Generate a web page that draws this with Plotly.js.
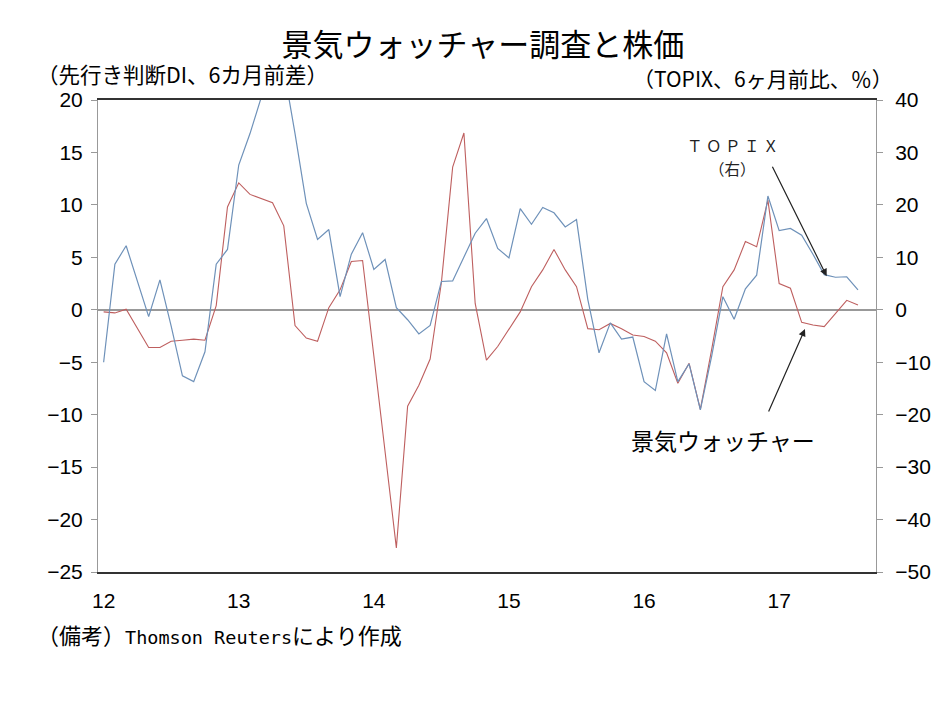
<!DOCTYPE html>
<html>
<head>
<meta charset="utf-8">
<script src="https://cdn.plot.ly/plotly-3.0.1.min.js"></script>
<style>
html,body{margin:0;padding:0;background:#fff;}
#chart{width:934px;height:701px;}
</style>
</head>
<body>
<div id="chart"></div>
<script>
// Month index 0 = Jan 2012 ... 67 = Aug 2017
const months = [];
for (let i = 0; i < 68; i++) months.push(i);

const yearTickPositions = [0, 12, 24, 36, 48, 60];
const yearTickLabels = ["12", "13", "14", "15", "16", "17"];

// 景気ウォッチャー 先行き判断DI、6カ月前差 (left axis)
const watcherDI = [
  -0.2, -0.3, 0.05, -1.8, -3.6, -3.6, -3.0, -2.9, -2.8, -2.9, 0.4, 9.8,
  12.1, 11.0, 10.6, 10.2, 8.0, -1.5, -2.7, -3.0, 0.2, 1.9, 4.6, 4.7,
  -4.4, -13.5, -22.7, -9.2, -7.2, -4.7, 2.6, 13.6, 16.85, 0.6, -4.8, -3.5,
  -1.8, -0.2, 2.2, 3.8, 5.75, 3.8, 2.2, -1.8, -1.9, -1.3, -1.8, -2.4,
  -2.55, -3.0, -4.1, -7.0, -5.1, -9.5, -3.8, 2.2, 3.8, 6.5, 6.0, 10.45,
  2.5, 2.05, -1.2, -1.45, -1.6, -0.4, 0.9, 0.45
];

// TOPIX 6ヶ月前比 % (right axis)
const topix = [
  -10.0, 8.7, 12.2, 5.6, -1.3, 5.7, -3.1, -12.6, -13.7, -8.0, 8.7, 11.5,
  27.6, 33.6, 40.5, 51.0, 46.0, 33.6, 20.3, 13.4, 15.3, 2.5, 10.6, 14.7,
  7.7, 9.6, 0.4, -1.9, -4.6, -3.0, 5.4, 5.5, 10.1, 14.6, 17.4, 11.7,
  9.9, 19.3, 16.3, 19.5, 18.5, 15.8, 17.2, 2.0, -8.2, -2.5, -5.6, -5.2,
  -13.7, -15.4, -4.6, -13.7, -10.3, -19.1, -8.9, 2.5, -1.8, 4.0, 6.6, 21.7,
  15.1, 15.5, 14.2, 10.6, 6.7, 6.2, 6.3, 3.8
];

const jp = '"Noto Sans CJK JP", "Noto Sans", sans-serif';
const num = '"Liberation Sans", Arial, sans-serif';

const traces = [
  {
    x: months, y: watcherDI, type: 'scatter', mode: 'lines',
    name: '景気ウォッチャー', yaxis: 'y',
    line: {color: 'rgb(190,95,95)', width: 1.1}
  },
  {
    x: months, y: topix, type: 'scatter', mode: 'lines',
    name: 'TOPIX（右）', yaxis: 'y2',
    line: {color: 'rgb(110,145,185)', width: 1.2}
  }
];

const layout = {
  width: 934, height: 701,
  margin: {l: 98, r: 58, t: 99.5, b: 128.5},
  paper_bgcolor: '#fff', plot_bgcolor: '#fff',
  showlegend: false,
  title: {
    text: '景気ウォッチャー調査と株価',
    font: {family: jp, size: 31, color: '#000'},
    x: 0.517, xanchor: 'center', y: 0.936, yanchor: 'middle', yref: 'container'
  },
  xaxis: {
    range: [-0.5, 68.6],
    tickvals: yearTickPositions, ticktext: yearTickLabels,
    ticks: '', showgrid: false, zeroline: false,
    showline: true, linecolor: '#333', linewidth: 2, mirror: true,
    tickfont: {family: num, size: 21, color: '#000'},
    ticklabelstandoff: 9
  },
  yaxis: {
    range: [-25, 20], dtick: 5, tick0: 0,
    ticks: 'outside', ticklen: 6, tickcolor: '#999', tickwidth: 1,
    showgrid: false,
    zeroline: true, zerolinecolor: '#999', zerolinewidth: 1.5,
    showline: true, linecolor: '#999', linewidth: 1,
    tickfont: {family: num, size: 21, color: '#000'},
    ticklabelstandoff: 4
  },
  yaxis2: {
    range: [-50, 40], dtick: 10, tick0: 0,
    overlaying: 'y', side: 'right',
    ticks: 'outside', ticklen: 6, tickcolor: '#999', tickwidth: 1,
    showgrid: false, zeroline: false,
    showline: true, linecolor: '#999', linewidth: 1,
    tickfont: {family: num, size: 21, color: '#000'},
    ticklabelstandoff: 8
  },
  annotations: [
    {text: '（先行き判断DI、6カ月前差）', xref: 'paper', yref: 'paper',
     x: -0.081, y: 1.056, xanchor: 'left', yanchor: 'middle', showarrow: false,
     font: {family: jp, size: 21.5, color: '#000'}},
    {text: '（TOPIX、6ヶ月前比、％）', xref: 'paper', yref: 'paper',
     x: 1.025, y: 1.047, xanchor: 'right', yanchor: 'middle', showarrow: false,
     font: {family: jp, size: 21, color: '#000'}},
    {text: '（備考）<span style="font-family:\'DejaVu Sans Mono\',\'Liberation Mono\',monospace;font-size:18.5px">Thomson Reuters</span>により作成',
     xref: 'paper', yref: 'paper',
     x: -0.081, y: -0.132, xanchor: 'left', yanchor: 'middle', showarrow: false,
     font: {family: jp, size: 22, color: '#000'}},
    {text: 'Ｔ Ｏ Ｐ Ｉ Ｘ', xref: 'paper', yref: 'paper',
     x: 0.816, y: 0.904, xanchor: 'center', yanchor: 'middle', showarrow: false,
     font: {family: jp, size: 15.5, color: '#222'}},
    {text: '（右）', xref: 'paper', yref: 'paper',
     x: 0.816, y: 0.855, xanchor: 'center', yanchor: 'middle', showarrow: false,
     font: {family: jp, size: 15.5, color: '#222'}},
    {text: '景気ウォッチャー', xref: 'paper', yref: 'paper',
     x: 0.803, y: 0.280, xanchor: 'center', yanchor: 'middle', showarrow: false,
     font: {family: jp, size: 23, color: '#000'}},
    // arrows
    {text: '', xref: 'paper', yref: 'paper', x: 0.9366, y: 0.6268,
     showarrow: true, ax: -55, ay: -111, arrowhead: 2, arrowsize: 1.2,
     arrowwidth: 1.2, arrowcolor: '#222'},
    {text: '', xref: 'paper', yref: 'paper', x: 0.9087, y: 0.5148,
     showarrow: true, ax: -37, ay: 84, arrowhead: 2, arrowsize: 1.2,
     arrowwidth: 1.2, arrowcolor: '#222'}
  ]
};

Plotly.newPlot('chart', traces, layout, {staticPlot: true, displayModeBar: false});
</script>
</body>
</html>
